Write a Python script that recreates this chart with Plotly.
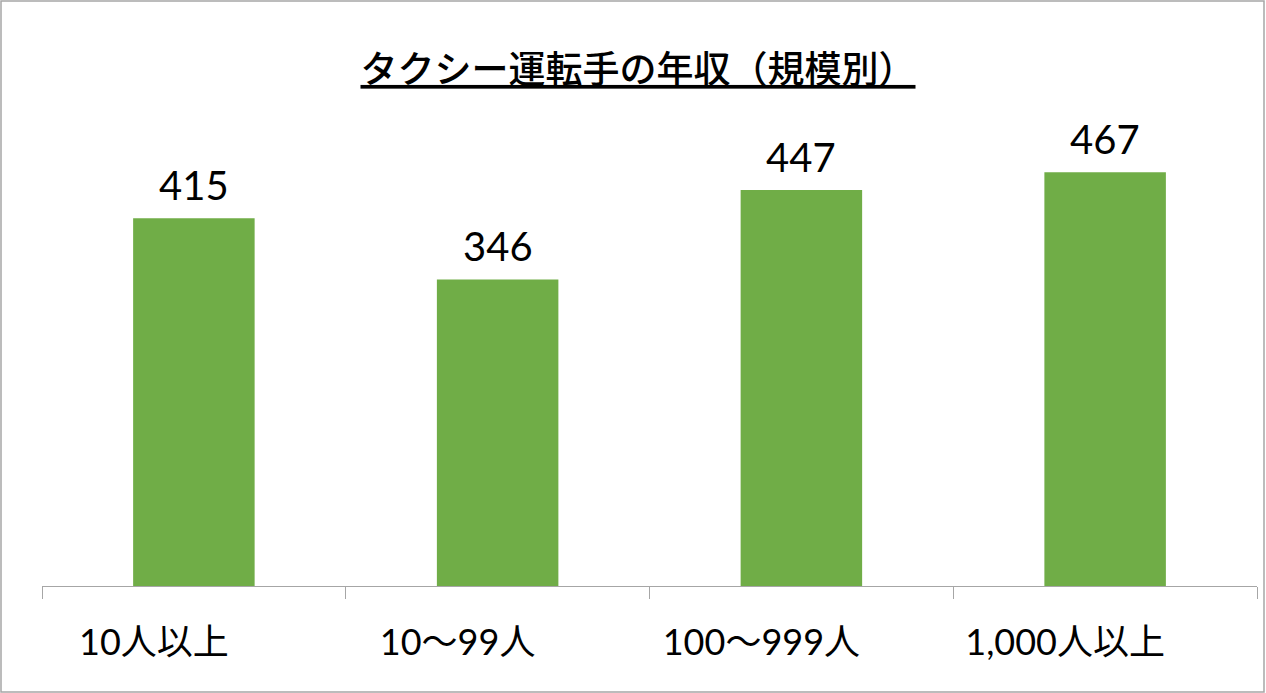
import plotly.graph_objects as go

categories = ["10人以上", "10～99人", "100～999人", "1,000人以上"]
values = [415, 346, 447, 467]

W, H = 1266, 693
ML, MR, MT, MB = 42, 9, 143, 107
FONT = "Lato, 'Noto Sans CJK JP', sans-serif"

fig = go.Figure()

fig.add_trace(
    go.Bar(
        x=categories, y=values,
        marker=dict(color="#70AD47", line=dict(width=0)),
        width=0.4,
        showlegend=False,
        hoverinfo="x+y",
    )
)

# data labels above the bars
for c, v in zip(categories, values):
    fig.add_annotation(
        x=c, y=v, text=str(v), showarrow=False,
        yanchor="bottom", yshift=7,
        font=dict(size=40, color="black", family=FONT),
    )

# outer chart border
pw = W - ML - MR
ph = H - MT - MB
fig.add_shape(
    type="rect", xref="paper", yref="paper",
    x0=(1 - ML) / pw, x1=(W - 2 - ML) / pw,
    y0=-(H - 1 - MT - ph) / ph, y1=1 + (MT - 1) / ph,
    line=dict(color="#A6A6A6", width=1.5),
)

fig.update_layout(
    width=W, height=H,
    margin=dict(l=ML, r=MR, t=MT, b=MB),
    paper_bgcolor="white", plot_bgcolor="white",
    title=dict(
        text="<u>タクシー運転手の年収（規模別）</u>",
        x=638 / W, xref="container", xanchor="center",
        y=1 - 70 / H, yanchor="middle",
        font=dict(size=37, color="black", family="'Noto Sans CJK JP', sans-serif",
                  weight=500),
    ),
    xaxis=dict(
        showline=True, linecolor="#A6A6A6", linewidth=1,
        ticks="outside", tickson="boundaries", ticklen=12, tickcolor="#A6A6A6",
        ticklabelstandoff=25, ticklabelshift=-40,
        tickfont=dict(size=36, color="black", family=FONT),
        showgrid=False,
    ),
    yaxis=dict(range=[0, 500], visible=False, showgrid=False),
)

fig.write_html(
    "out.html",
    config={"displayModeBar": False},
    post_script="document.body.style.margin='0';",
)
